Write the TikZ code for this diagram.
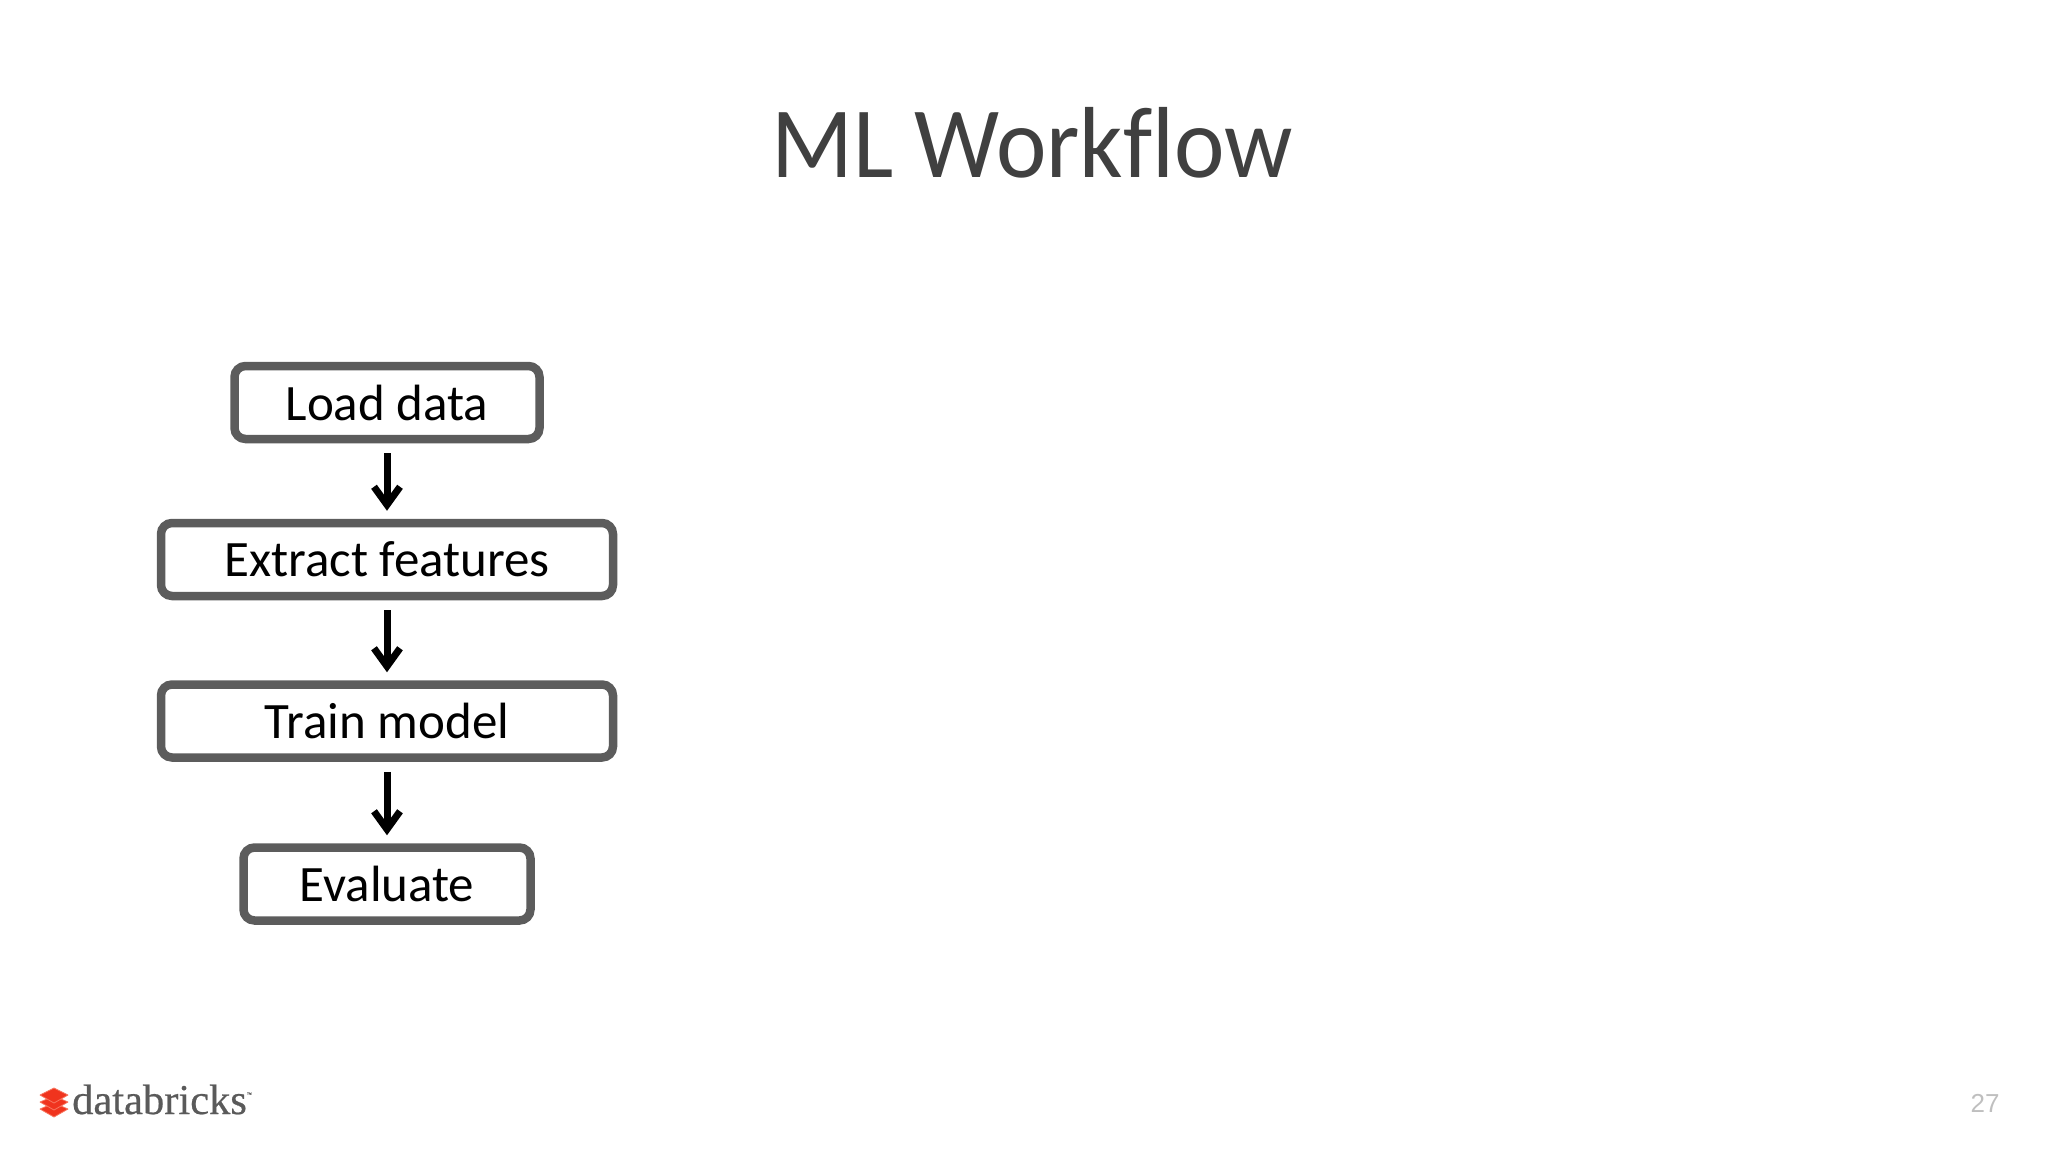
\documentclass[tikz,border=0pt]{standalone}
\usepackage{fontspec}
\setmainfont{Carlito}
\newfontfamily\titlefont[FakeStretch=0.947, Ligatures=NoCommon]{Carlito}
\newfontfamily\numfont{Liberation Sans}
\newfontfamily\logofont[FakeBold=0.5]{Liberation Serif}
\usetikzlibrary{arrows.meta}
\definecolor{boxgray}{HTML}{5C5C5C}
\definecolor{titlegray}{HTML}{404040}
\definecolor{numgray}{HTML}{BFBFBF}
\definecolor{logored}{HTML}{F0341E}
\definecolor{logoedge}{HTML}{F8765F}
\definecolor{logogray}{HTML}{5A5A5A}
\tikzset{
  stepbox/.style={draw=boxgray, line width=8.5pt, rounded corners=11pt, fill=white, inner sep=0pt, minimum height=73pt, font=\fontsize{51}{60}\selectfont},
  flow/.style={line width=7pt, -{Straight Barb[length=18pt, width=26pt, line width=7pt]}, shorten <=10pt, shorten >=8pt},
  brick/.style={fill=logored, draw=logoedge, line width=.8pt, line join=round}
}

\begin{document}
\begin{tikzpicture}[x=1pt, y=-1pt]
      \useasboundingbox (0, 0) rectangle (2048, 1152);
      \node [font=\titlefont\fontsize{101}{120}\selectfont, text=titlegray] (title) at (1032, 143) {ML Workflow};
      \node [stepbox, minimum width=305pt] (load) at (387, 402.5) {Load data};
      \node [stepbox, minimum width=452pt] (extract) at (387, 559.5) {Extract features};
      \node [stepbox, minimum width=452pt] (train) at (387, 721) {Train model};
      \node [stepbox, minimum width=287pt] (evaluate) at (387, 884) {Evaluate};
      \draw [flow] (load) -- (extract);
      \draw [flow] (extract) -- (train);
      \draw [flow] (train) -- (evaluate);
      % logo
      \draw [brick] (54, 1103) -- (68, 1109) -- (54, 1117) -- (40, 1109) -- cycle;
      \draw [brick] (54, 1096) -- (68, 1102) -- (54, 1110) -- (40, 1102) -- cycle;
      \draw [brick] (54, 1088) -- (68, 1095) -- (54, 1103) -- (40, 1095) -- cycle;
      \node [font=\logofont\fontsize{42.5}{48}\selectfont, text=logogray, anchor=base west, inner sep=0pt] (brand) at (72, 1114) {databricks\raisebox{18pt}{\fontsize{5}{6}\selectfont ™}};
      \node [font=\numfont\fontsize{26}{30}\selectfont, text=numgray] (page) at (1985, 1103) {27};
    \end{tikzpicture}
\end{document}
